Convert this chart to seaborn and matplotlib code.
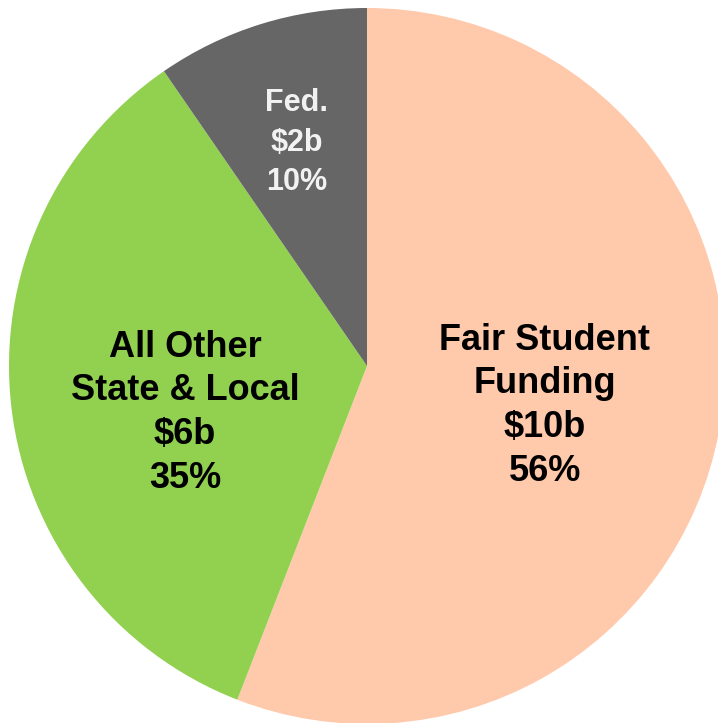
import matplotlib
matplotlib.use("Agg")
import matplotlib.pyplot as plt
import seaborn as sns

# Funding sources (share of total)
sources = ["Fair Student\nFunding", "All Other\nState & Local", "Fed."]
amounts = ["$10b", "$6b", "$2b"]
pct_labels = ["56%", "35%", "10%"]
shares = [55.9, 34.5, 9.6]
colors = ["#FFC9AC", "#92D050", "#666666"]
text_colors = ["black", "black", "#F2F2F2"]

sns.set_theme(style="white")
plt.rcParams["font.family"] = ["Liberation Sans", "DejaVu Sans"]

fig = plt.figure(figsize=(7.18, 7.23), dpi=100)
ax = fig.add_axes([0, 0, 1, 1])

wedges, _ = ax.pie(shares, colors=colors, startangle=90, counterclock=False,
                   radius=1, wedgeprops=dict(linewidth=0))

# label positions (data units, pie radius = 1)
label_xy = [(0.497, -0.111), (-0.508, -0.13), (-0.196, 0.624)]
label_size = [26, 26, 22]
label_spacing = [1.32, 1.32, 1.4]
for i in range(len(sources)):
    txt = f"{sources[i]}\n{amounts[i]}\n{pct_labels[i]}"
    ax.text(label_xy[i][0], label_xy[i][1], txt, ha="center", va="center",
            fontsize=label_size[i], fontweight="bold", color=text_colors[i],
            linespacing=label_spacing[i])

# pie is cropped slightly on the right/bottom like the original
px = 358.0
ax.set_xlim(-367 / px, (718 - 367) / px)
ax.set_ylim(-(723 - 366) / px, 366 / px)
ax.set_aspect("auto")
ax.axis("off")

fig.savefig("out.png", dpi=100, facecolor="white")
